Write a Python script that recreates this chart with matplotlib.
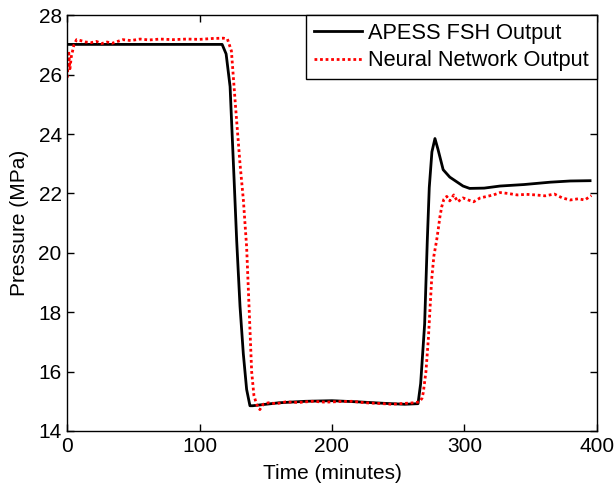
import matplotlib
matplotlib.use("Agg")
import matplotlib.pyplot as plt

black_t = [0, 117, 120, 123, 126, 128, 130.5, 133, 135.5, 138,
           140, 160, 180, 200, 220, 240, 255, 265, 267, 270,
           272, 273.5, 275.5, 277.8, 280, 284, 289, 294, 299, 304,
           315, 327, 345, 365, 380, 395]
black_v = [27.02, 27.02, 26.7, 25.6, 22.5, 20.4, 18.2, 16.6, 15.4, 14.85,
           14.85, 14.95, 15.0, 15.02, 14.98, 14.93, 14.9, 14.92, 15.6, 17.6,
           20.4, 22.2, 23.4, 23.85, 23.5, 22.8, 22.55, 22.4, 22.25, 22.17,
           22.18, 22.25, 22.3, 22.38, 22.42, 22.43]

red_t = [0, 1, 2, 3, 5, 7, 10, 14, 18, 22,
         26, 30, 34, 38, 42, 48, 55, 62, 70, 80,
         90, 100, 110, 118, 121, 124, 127, 130.5, 133, 135.5,
         137.5, 139.3, 141, 143, 145.5, 148, 152, 158, 165, 175,
         185, 195, 205, 215, 225, 235, 245, 255, 262, 266,
         268, 269, 271, 272.8, 275.3, 277, 279, 280.3, 281.5, 282.9,
         284.5, 286.7, 289, 292, 295, 299, 303, 307, 312, 317,
         322, 327, 333, 340, 347, 354, 361, 368, 374, 380,
         386, 391, 396]
red_v = [25.9, 26.8, 26.2, 26.6, 27.0, 27.18, 27.15, 27.1, 27.08, 27.12,
         27.05, 27.1, 27.06, 27.12, 27.18, 27.15, 27.2, 27.17, 27.2, 27.18,
         27.2, 27.19, 27.22, 27.23, 27.2, 26.8, 25.0, 23.0, 21.8, 20.2,
         18.0, 16.0, 15.2, 14.9, 14.72, 14.9, 14.95, 14.92, 14.98, 14.96,
         15.0, 14.97, 14.99, 15.0, 14.95, 14.93, 14.9, 14.93, 14.95, 14.98,
         15.1, 15.3, 16.0, 17.1, 19.1, 19.9, 20.4, 20.8, 21.2, 21.55,
         21.8, 21.9, 21.75, 21.95, 21.72, 21.85, 21.78, 21.72, 21.85, 21.9,
         21.95, 22.03, 22.0, 21.95, 21.97, 21.95, 21.92, 21.98, 21.85, 21.78,
         21.82, 21.78, 21.93]

x_ticks = [0, 100, 200, 300, 400]
y_ticks = [14, 16, 18, 20, 22, 24, 26, 28]

plt.rcParams['font.family'] = ['Liberation Sans', 'DejaVu Sans']

fig = plt.figure(figsize=(6.14, 4.86), dpi=100)
ax = fig.add_axes([0.1096, 0.1132, 0.8622, 0.8553])

ax.plot(black_t, black_v, color='black', lw=2, label='APESS FSH Output')
ax.plot(red_t, red_v, color='red', lw=2, linestyle=(0, (1, 1)), label='Neural Network Output')

ax.set_xlim(0, 400)
ax.set_ylim(14, 28)
ax.set_xticks(x_ticks)
ax.set_yticks(y_ticks)
ax.tick_params(direction='in', length=5, width=1, labelsize=15, top=True, right=True, pad=4)
for s in ax.spines.values():
    s.set_linewidth(1)
ax.set_xlabel('Time (minutes)', fontsize=15, labelpad=6)
ax.set_ylabel('Pressure (MPa)', fontsize=15, labelpad=7)

leg = ax.legend(loc='upper right', fontsize=15.7, frameon=True, fancybox=False,
                edgecolor='black', framealpha=1, borderaxespad=0,
                handlelength=2.2, handletextpad=0.3, borderpad=0.35,
                labelspacing=0.3)
leg.get_frame().set_linewidth(1)

fig.savefig('out.png', dpi=100)
